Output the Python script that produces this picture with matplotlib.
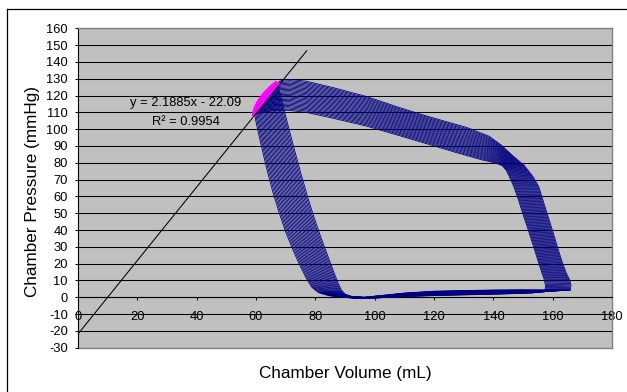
import matplotlib
matplotlib.use("Agg")
import matplotlib.pyplot as plt
from matplotlib.lines import Line2D
import numpy as np

plt.rcParams['font.family'] = ['Liberation Sans', 'DejaVu Sans']
plt.rcParams['axes.unicode_minus'] = False

# ---- data ----
# innermost loop of the family (volume mL, pressure mmHg): ED -> contraction -> ejection -> ES -> relaxation -> filling
inner_vol = [157.4, 157.5, 157.1, 156.4, 155.2, 153.6, 151.8, 150.0, 148.4, 146.8,
             145.4, 144.3, 143.0, 141.0,
             136.0, 128.0, 119.7, 108.0, 97.3, 86.0, 77.0, 71.0,
             65.5, 61.8,
             59.6, 60.2, 61.2, 62.5, 64.0, 65.8, 67.9, 70.0, 72.4, 74.8, 77.0, 78.8, 81.0, 84.5, 89.0,
             95.5, 102.0, 110.0, 120.0, 130.0, 140.0, 148.0, 153.0, 156.0, 157.4]
inner_pres = [4.5, 7.0, 10.5, 14.0, 20.5, 29.5, 39.5, 49.0, 58.0, 66.0,
              71.5, 75.5, 78.2, 79.7,
              81.8, 85.8, 90.2, 96.3, 101.8, 106.5, 110.0, 111.2,
              111.0, 110.0,
              108.3, 103.0, 95.0, 85.0, 74.0, 62.0, 50.0, 39.0, 28.5, 19.0, 11.2, 6.0, 2.8, 1.0, 0.0,
              -0.8, -0.3, 0.4, 1.0, 1.4, 1.8, 2.2, 2.6, 3.2, 4.5]
# outermost loop of the family
outer_vol = [165.8, 166.1, 165.6, 164.6, 163.2, 161.6, 159.9, 158.2, 156.6, 155.2,
             153.2, 150.3, 146.6, 142.6,
             138.5, 131.0, 117.5, 107.0, 97.3, 86.0, 77.0, 71.5,
             69.2, 68.0,
             67.2, 68.3, 69.7, 71.2, 73.1, 75.1, 77.2, 79.3, 81.5, 83.8, 85.9, 87.6, 88.8, 90.1, 92.0,
             96.5, 102.0, 110.0, 120.0, 130.0, 140.0, 150.0, 158.0, 163.8, 165.8]
outer_pres = [4.2, 7.0, 10.5, 14.0, 20.5, 29.5, 39.5, 49.0, 58.0, 66.0,
              72.0, 78.5, 84.0, 90.5,
              95.8, 101.0, 107.8, 113.6, 119.4, 124.7, 128.5, 129.6,
              129.3, 128.5,
              127.2, 120.0, 110.0, 99.6, 87.0, 74.0, 61.0, 49.0, 37.5, 26.5, 16.5, 8.8, 4.2, 1.8, 0.6,
              0.0, 1.0, 2.5, 3.6, 4.0, 4.3, 4.4, 4.3, 4.1, 4.2]
# position of each recorded loop within the band (0 = innermost, 1 = outermost)
loop_position = [0.00, 0.04, 0.08, 0.12, 0.16, 0.20, 0.24, 0.28, 0.32, 0.36, 0.40, 0.44, 0.48,
                 0.52, 0.56, 0.60, 0.64, 0.68, 0.72, 0.76, 0.80, 0.84, 0.88, 0.92, 0.96, 1.00]

# end-systolic points region (magenta)
es_vol = [58.9, 59.2, 59.7, 60.4, 61.3, 62.4, 63.7, 65.2, 66.8]
es_pres = [108.3, 111.0, 113.5, 116.0, 118.5, 121.0, 123.5, 126.0, 128.3]

# linear trendline (ESPVR)
trend_slope = 2.1885
trend_intercept = -22.09
trend_r2 = 0.9954
trend_x = [0.0, 77.1]

y_ticks = list(range(-30, 161, 10))
x_ticks = list(range(0, 181, 20))

# ---- figure ----
W, H = 627, 392
fig = plt.figure(figsize=(W / 100, H / 100), dpi=100)
ax = fig.add_axes([77.7 / W, 1 - 347.7 / H, (612.3 - 77.7) / W, (347.7 - 28.3) / H])
ax.set_facecolor('#C0C0C0')

iv, ip = np.array(inner_vol), np.array(inner_pres)
ovv, opp = np.array(outer_vol), np.array(outer_pres)
for w in loop_position:
    ax.plot(iv + w * (ovv - iv), ip + w * (opp - ip), color='#000080', lw=0.6,
            solid_joinstyle='round', zorder=3)

ev = np.array(es_vol)
ep = np.array(es_pres)
ax.fill_betweenx(ep, ev, (ep - trend_intercept) / trend_slope, color='#FF00FF', lw=0, zorder=4)
ax.plot(ev, ep, color='#FF00FF', lw=1.2, zorder=4, solid_capstyle='round')

tx = np.array(trend_x)
ax.plot(tx, trend_slope * tx + trend_intercept, color='black', lw=0.75, zorder=5)

ax.text(36.4, 115.6, f"y = {trend_slope}x - {abs(trend_intercept)}", ha='center', va='center',
        fontsize=9.3, zorder=6)
ax.text(36.6, 104.4, f"R\u00b2 = {trend_r2}", ha='center', va='center', fontsize=9.3, zorder=6)

ax.set_xlim(0, 180)
ax.set_ylim(-30, 160)
ax.set_xticks(x_ticks)
ax.set_yticks(y_ticks)
ax.yaxis.grid(True, color='black', lw=0.75)
ax.xaxis.grid(False)
ax.set_axisbelow(True)

for s in ['top', 'right']:
    ax.spines[s].set_color('#808080')
    ax.spines[s].set_linewidth(1.0)
ax.spines['left'].set_color('black')
ax.spines['left'].set_linewidth(0.8)
ax.spines['bottom'].set_position(('data', 0))
ax.spines['bottom'].set_color('black')
ax.spines['bottom'].set_linewidth(0.8)
ax.spines['bottom'].set_zorder(2.5)
ax.plot([0, 1], [0, 0], transform=ax.transAxes, color='#808080', lw=1.0, clip_on=False, zorder=2)

ax.tick_params(axis='both', direction='out', length=2.2, width=0.75, color='black', labelsize=9.3)
ax.tick_params(axis='y', pad=4.8)
ax.tick_params(axis='x', pad=8.0)

fig.text(345 / W, 1 - 373.5 / H, 'Chamber Volume (mL)', ha='center', va='center', fontsize=12.3)
fig.text(32.5 / W, 1 - 191.5 / H, 'Chamber Pressure (mmHg)', rotation=90, ha='center', va='center',
         fontsize=12.3)

# chart frame
fig.add_artist(Line2D([7.3 / W, 7.3 / W], [0, 1 - 9 / H], transform=fig.transFigure, color='black', lw=0.9))
fig.add_artist(Line2D([7.3 / W, 1], [1 - 9 / H, 1 - 9 / H], transform=fig.transFigure, color='black', lw=0.9))

fig.savefig('out.png', dpi=100, facecolor='white')
